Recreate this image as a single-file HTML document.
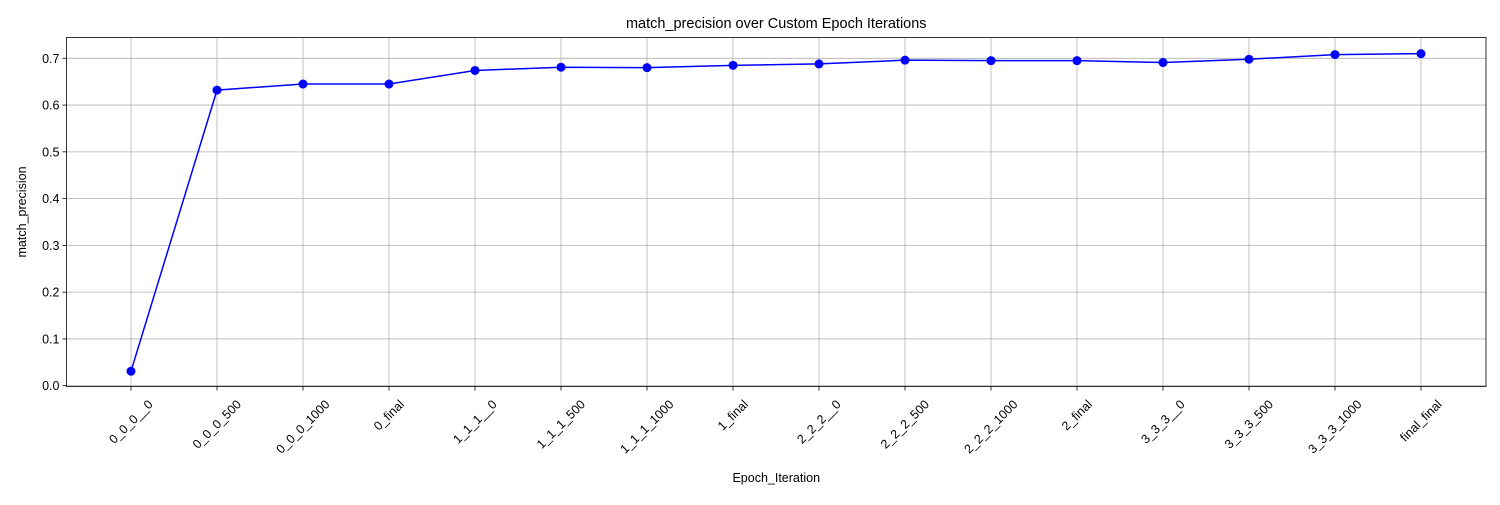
<!DOCTYPE html>
<html><head><meta charset="utf-8"><style>
body{margin:0;background:#fff;}
svg text{font-family:"Liberation Sans","DejaVu Sans",sans-serif;fill:#000;}
</style></head><body>
<svg id="chart" width="1500" height="500" viewBox="0 0 1500 500" xmlns="http://www.w3.org/2000/svg">
<rect width="1500" height="500" fill="#fff"/>
<g id="grid"></g><g id="axes"></g><g id="series"></g>
</svg>
<script>
const categories=["0_0_0__0","0_0_0_500","0_0_0_1000","0_final","1_1_1__0","1_1_1_500","1_1_1_1000","1_final","2_2_2__0","2_2_2_500","2_2_2_1000","2_final","3_3_3__0","3_3_3_500","3_3_3_1000","final_final"];
const values=[0.031,0.632,0.645,0.645,0.674,0.681,0.680,0.685,0.688,0.696,0.695,0.695,0.691,0.698,0.708,0.710];
const yTicks=[0.0,0.1,0.2,0.3,0.4,0.5,0.6,0.7];
const NS="http://www.w3.org/2000/svg";
const L=66.5,R=1486,T=37.5,B=386.5;
function xs(i){return 131+i*86;}
function ys(v){return 385.7-v*467.7;}
function mk(tag,attrs,parent,text){const e=document.createElementNS(NS,tag);for(const k in attrs)e.setAttribute(k,attrs[k]);if(text!==undefined)e.textContent=text;parent.appendChild(e);return e;}
const svg=document.getElementById('chart'),grid=document.getElementById('grid'),axes=document.getElementById('axes'),series=document.getElementById('series');
categories.forEach((c,i)=>{
 const x=xs(i);
 const g=mk('line',{x1:x,x2:x,y1:T,y2:B,stroke:'#b0b0b0','stroke-width':0.8},grid);
 
 
 mk('line',{x1:x,x2:x,y1:B,y2:B+4,stroke:'#000','stroke-width':0.8},axes);
 const t=mk('text',{x:x,y:0,'font-size':12.5,'text-anchor':'middle','dominant-baseline':'central'},axes,c);
 
 
 const w=t.getComputedTextLength();
 const cy=398+(w+12)*0.7071/2;
 t.setAttribute('y',cy);
 t.setAttribute('transform',`rotate(-45 ${x} ${cy})`);
});
yTicks.forEach(v=>{
 const y=ys(v);
 const g=mk('line',{x1:L,x2:R,y1:y,y2:y,stroke:'#b0b0b0','stroke-width':0.8},grid);
 
 
 mk('line',{x1:L-4,x2:L,y1:y,y2:y,stroke:'#000','stroke-width':0.8},axes);
 const t=mk('text',{x:L-7,y:y+4.5,'font-size':12.5,'text-anchor':'end'},axes,v.toFixed(1));
 
 
});
const frame=mk('rect',{x:L,y:T,width:R-L,height:B-T,fill:'none',stroke:'#000','stroke-width':0.8},axes);


const line=mk('polyline',{points:values.map((v,i)=>xs(i)+','+ys(v)).join(' '),fill:'none',stroke:'#0000ff','stroke-width':1.5},series);


values.forEach((v,i)=>{
 const c=mk('circle',{cx:xs(i),cy:ys(v),r:4.5,fill:'#0000ff'},series);
 
 
});
const title=mk('text',{x:(L+R)/2,y:28,'font-size':14.5,'text-anchor':'middle'},svg,'match_precision over Custom Epoch Iterations');


const xt=mk('text',{x:(L+R)/2,y:482,'font-size':12.5,'text-anchor':'middle'},svg,'Epoch_Iteration');


const yt=mk('text',{x:26,y:(T+B)/2,'font-size':12.5,'text-anchor':'middle',transform:`rotate(-90 26 ${(T+B)/2})`},svg,'match_precision');


</script>
</body></html>
